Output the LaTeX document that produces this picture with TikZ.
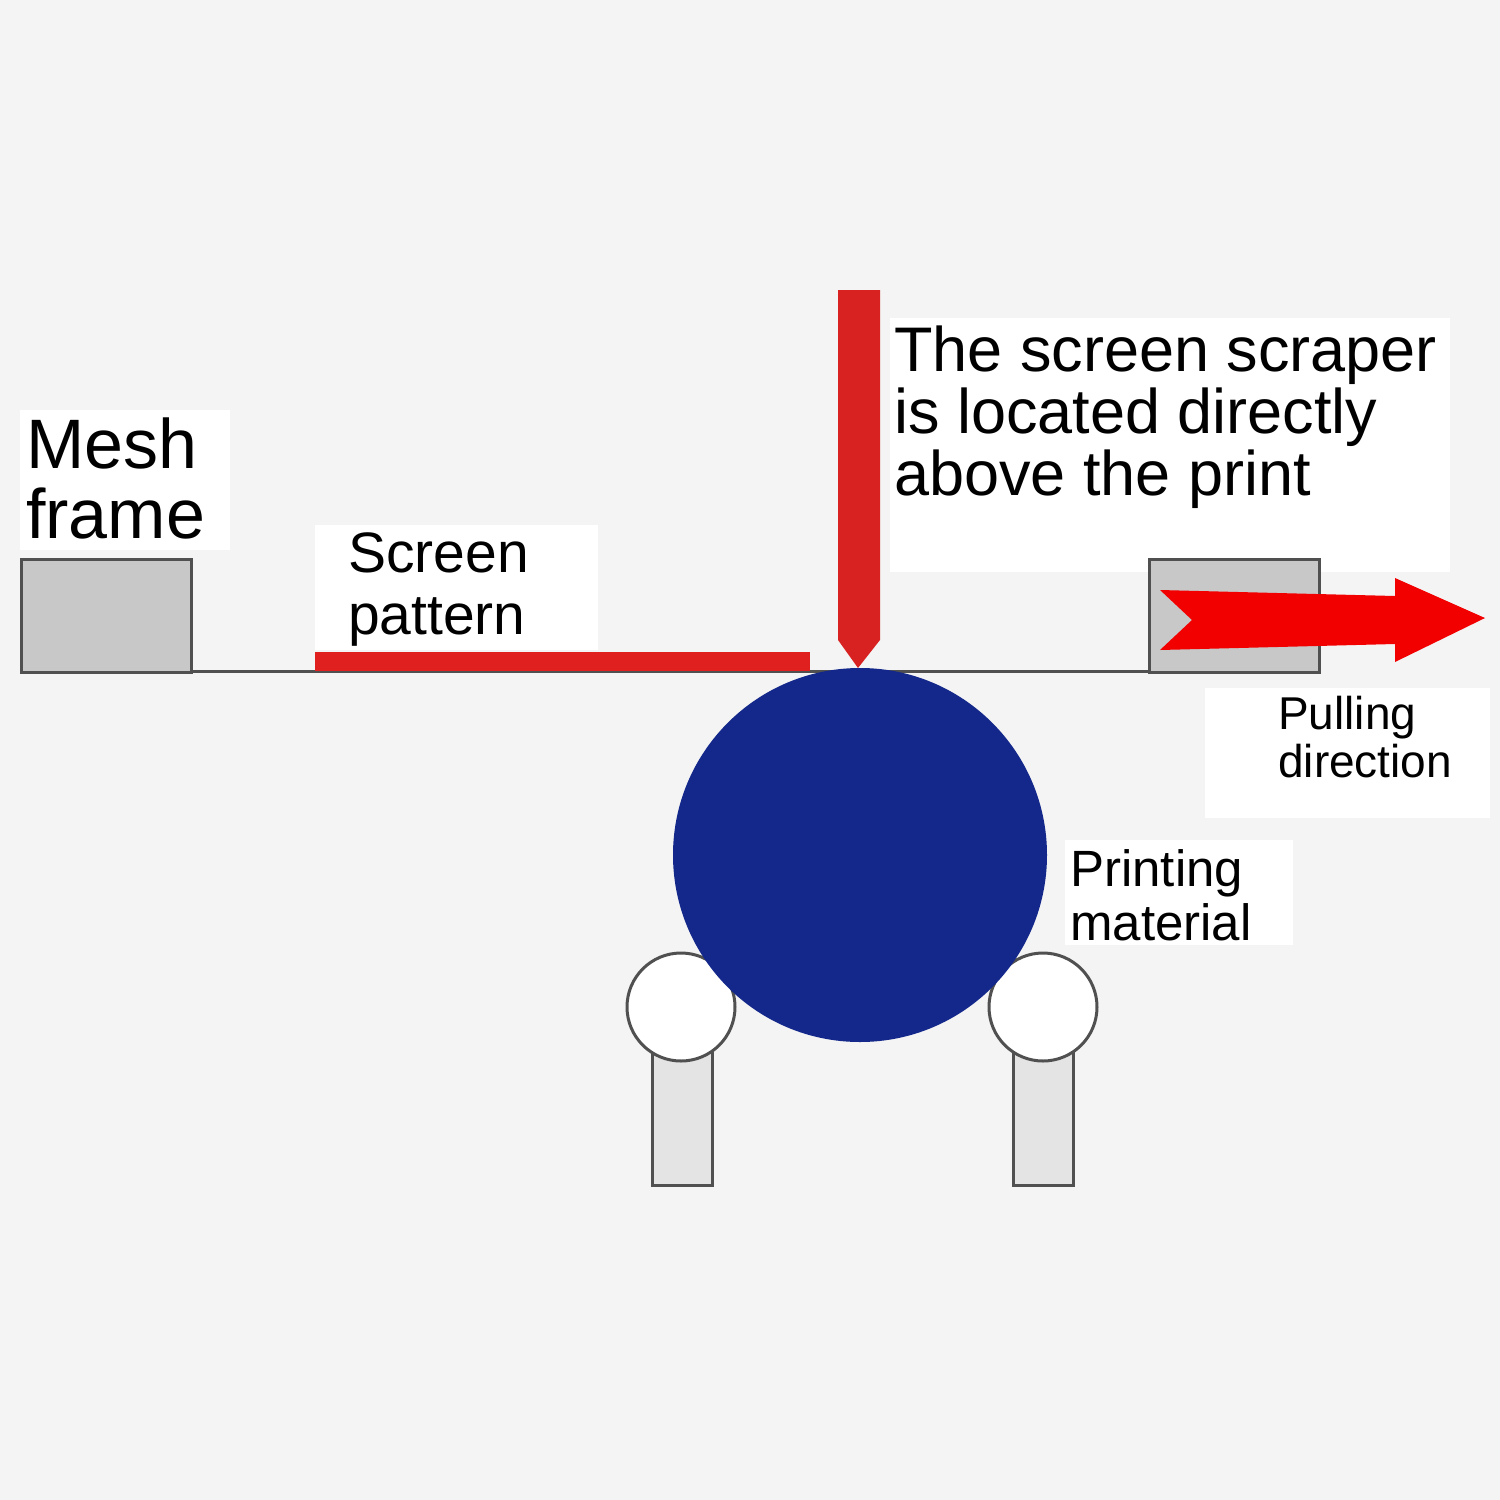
\documentclass[tikz,border=0pt]{standalone}
\usepackage{fontspec}
\setmainfont{Liberation Sans}
\definecolor{bg}{HTML}{F4F4F4}
\definecolor{lred}{HTML}{E0201E}
\definecolor{sred}{HTML}{D82222}
\definecolor{blu}{HTML}{13288A}
\definecolor{fr}{HTML}{C8C8C8}
\definecolor{ln}{HTML}{505050}
\begin{document}
\begin{tikzpicture}[x=1pt,y=-1pt,
  lbl/.style={anchor=north west,align=left,inner sep=0pt,text=black},
  wbox/.style={fill=white,draw=none},
  frame/.style={fill=fr,draw=ln,line width=3pt},
  roll/.style={fill=white,draw=ln,line width=3pt}]
\useasboundingbox (0,0) rectangle (1500,1500);
\fill[bg] (0,0) rectangle (1500,1500);
% label backgrounds
\fill[wbox] (20,410) rectangle (230,550);
\fill[wbox] (315,525) rectangle (598,650);
\fill[wbox] (890,318) rectangle (1450,572);
\fill[wbox] (1205,688) rectangle (1490,818);
\fill[wbox] (1065,840) rectangle (1293,945);
% baseline and frames
\draw[ln,line width=3pt] (20,671) -- (1320,671);
\node[frame,minimum width=170pt,minimum height=113pt,inner sep=0pt,anchor=north west] (lf) at (20,558) {};
\node[frame,minimum width=170pt,minimum height=113pt,inner sep=0pt,anchor=north west] (rf) at (1148,558) {};
% screen pattern
\fill[lred] (315,652) rectangle (810,671);
% scraper
\fill[sred] (838,290) -- (880,290) -- (880,640) -- (858,668) -- (838,640) -- cycle;
% rollers
\draw[roll,fill=fr!50] (652,1045) rectangle (712,1185);
\draw[roll,fill=fr!50] (1013,1045) rectangle (1073,1185);
\node[roll,circle,minimum size=108pt,inner sep=0pt] (r1) at (681,1007) {};
\node[roll,circle,minimum size=108pt,inner sep=0pt] (r2) at (1043,1007) {};
% printing material
\node[fill=blu,circle,minimum size=374pt,inner sep=0pt] (pm) at (860,855) {};
% pulling arrow
\fill[red!95!black] (1160,590) -- (1395,596) -- (1395,578) -- (1485,618) -- (1395,662) -- (1395,644) -- (1160,650) -- (1192,620) -- cycle;
% texts
\node[lbl,font=\fontsize{70}{70}\selectfont] (t1) at (26,418) {Mesh\\frame};
\node[lbl,font=\fontsize{57}{62}\selectfont] (t2) at (348,532) {Screen\\pattern};
\node[lbl,font=\fontsize{63}{62}\selectfont] (t3) at (894,326) {The screen scraper\\is located directly\\above the print};
\node[lbl,font=\fontsize{46}{48}\selectfont] (t4) at (1278,696) {Pulling\\direction};
\node[lbl,font=\fontsize{51}{54}\selectfont] (t5) at (1070,849) {Printing\\material};
\end{tikzpicture}
\end{document}
